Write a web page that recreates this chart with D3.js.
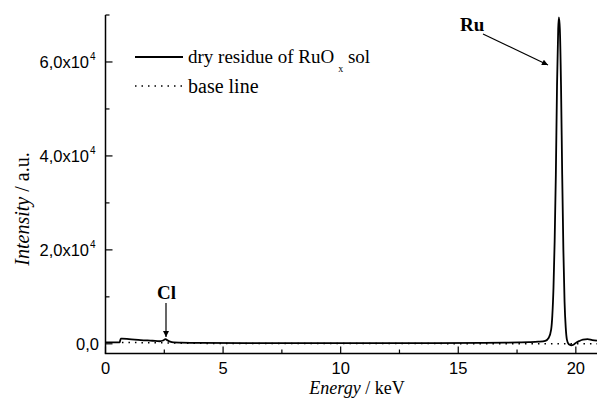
<!DOCTYPE html>
<html><head><meta charset="utf-8">
<script src="https://cdn.jsdelivr.net/npm/d3@7"></script>
<style>body{margin:0;background:#fff}svg{display:block}
.serif{font-family:"Liberation Serif","Times New Roman",serif}
.sans{font-family:"Liberation Sans",Arial,sans-serif}
</style>
</head><body>
<svg id="c" width="597" height="398"></svg>
<script>
const energy = [0,0.3,0.6,0.65,0.7,1.0,1.5,2.0,2.3,2.45,2.55,2.65,2.75,2.9,3.2,4,6,8,10,12,14,16,17,17.6,18.0,18.4,18.7,18.85,18.95,19.0,19.05,19.1,19.15,19.2,19.25,19.28,19.32,19.37,19.42,19.47,19.52,19.57,19.62,19.7,19.8,19.9,20.0,20.15,20.3,20.5,20.7,20.9];
const intensity = [300,300,300,1100,1100,1000,800,650,550,700,1000,700,450,300,250,200,150,150,150,150,150,200,250,300,350,450,650,1300,3000,6000,12000,22000,36000,55000,67000,69500,67000,55000,36000,20000,9000,3500,900,-100,-300,-200,200,600,900,1000,800,700];
const baseEnergy = [0.7,1.5,2.5,4,6,8,10,12,14,16,18,19,20,20.9];
const baseIntensity = [300,250,200,100,50,50,50,50,50,0,0,0,0,0];
const yTicks = [0,20000,40000,60000];
const yTickLabels = ["0,0","2,0x10","4,0x10","6,0x10"];
const xTicks = [0,5,10,15,20];

const svg = d3.select("#c");
const x = d3.scaleLinear().domain([0,20.9]).range([105.5,597]);
const y = d3.scaleLinear().domain([-2060,70000]).range([353.5,15]);

svg.append("line").attr("x1",105.5).attr("x2",105.5).attr("y1",15).attr("y2",353.5).attr("stroke","#000").attr("stroke-width",1.5);
svg.append("line").attr("x1",104.8).attr("x2",597).attr("y1",353.5).attr("y2",353.5).attr("stroke","#000").attr("stroke-width",1.5);

d3.range(0,70001,10000).forEach(v=>{
  const major = v%20000===0;
  svg.append("line").attr("x1",105.5).attr("x2",105.5+(major?7:4)).attr("y1",y(v)).attr("y2",y(v)).attr("stroke","#000").attr("stroke-width",1.2);
});
d3.range(0,20.9,2.5).forEach(v=>{
  const major = v%5===0;
  svg.append("line").attr("x1",x(v)).attr("x2",x(v)).attr("y1",353.5).attr("y2",353.5-(major?7:4)).attr("stroke","#000").attr("stroke-width",1.2);
});

yTicks.forEach((v,i)=>{
  svg.append("text").attr("class","sans").attr("x", i===0?99:89).attr("y",y(v)+6).attr("text-anchor","end")
    .attr("font-size",16.5).text(yTickLabels[i]);
  if(i>0){
    svg.append("text").attr("class","sans").attr("x",90).attr("y",y(v)-2).attr("font-size",10).text("4");
  }
});
xTicks.forEach(v=>{
  svg.append("text").attr("class","sans").attr("x",x(v)).attr("y",373.5).attr("text-anchor","middle")
    .attr("font-size",16.5).text(v);
});

const yt = svg.append("text").attr("class","serif").attr("transform","translate(29,209) rotate(-90)").attr("text-anchor","middle")
  .attr("font-size",20);
yt.append("tspan").attr("font-style","italic").text("Intensity");
yt.append("tspan").text(" / a.u.");
const xt = svg.append("text").attr("class","serif").attr("x",357).attr("y",393.5).attr("text-anchor","middle")
  .attr("font-size",18);
xt.append("tspan").attr("font-style","italic").text("Energy");
xt.append("tspan").text(" / keV");

const line = d3.line().x(d=>x(d[0])).y(d=>y(d[1])).curve(d3.curveMonotoneX);
svg.append("path").datum(baseEnergy.map((e,i)=>[e,baseIntensity[i]])).attr("d",line)
  .attr("fill","none").attr("stroke","#000").attr("stroke-width",1.5).attr("stroke-dasharray","1.5,5");
svg.append("path").datum(energy.map((e,i)=>[e,intensity[i]])).attr("d",line)
  .attr("fill","none").attr("stroke","#000").attr("stroke-width",1.8);

svg.append("line").attr("x1",135).attr("x2",183).attr("y1",57).attr("y2",57).attr("stroke","#000").attr("stroke-width",1.8);
const lt = svg.append("text").attr("class","serif").attr("x",188).attr("y",63).attr("font-size",19);
lt.append("tspan").text("dry residue of RuO");
lt.append("tspan").attr("font-size",10).attr("dx",4).attr("dy",9).text("x");
lt.append("tspan").attr("dy",-9).text(" sol");
svg.append("line").attr("x1",135).attr("x2",183).attr("y1",86).attr("y2",86).attr("stroke","#000").attr("stroke-width",1.5).attr("stroke-dasharray","1.5,5");
svg.append("text").attr("class","serif").attr("x",188).attr("y",93).attr("font-size",20).text("base line");

const defs = svg.append("defs");
defs.append("marker").attr("id","ah").attr("viewBox","0 0 10 10").attr("refX",10).attr("refY",5)
  .attr("markerWidth",8).attr("markerHeight",6).attr("markerUnits","userSpaceOnUse").attr("orient","auto")
  .append("path").attr("d","M0,0L10,5L0,10z").attr("fill","#000");
svg.append("text").attr("class","serif").attr("x",460).attr("y",31).attr("font-weight","bold").attr("font-size",19).text("Ru");
svg.append("line").attr("x1",483).attr("y1",34).attr("x2",548).attr("y2",65).attr("stroke","#000").attr("stroke-width",1.2).attr("marker-end","url(#ah)");
svg.append("text").attr("class","serif").attr("x",157).attr("y",299).attr("font-weight","bold").attr("font-size",19).text("Cl");
svg.append("line").attr("x1",166).attr("y1",303).attr("x2",166).attr("y2",337).attr("stroke","#000").attr("stroke-width",1.2).attr("marker-end","url(#ah)");
</script>
</body></html>
